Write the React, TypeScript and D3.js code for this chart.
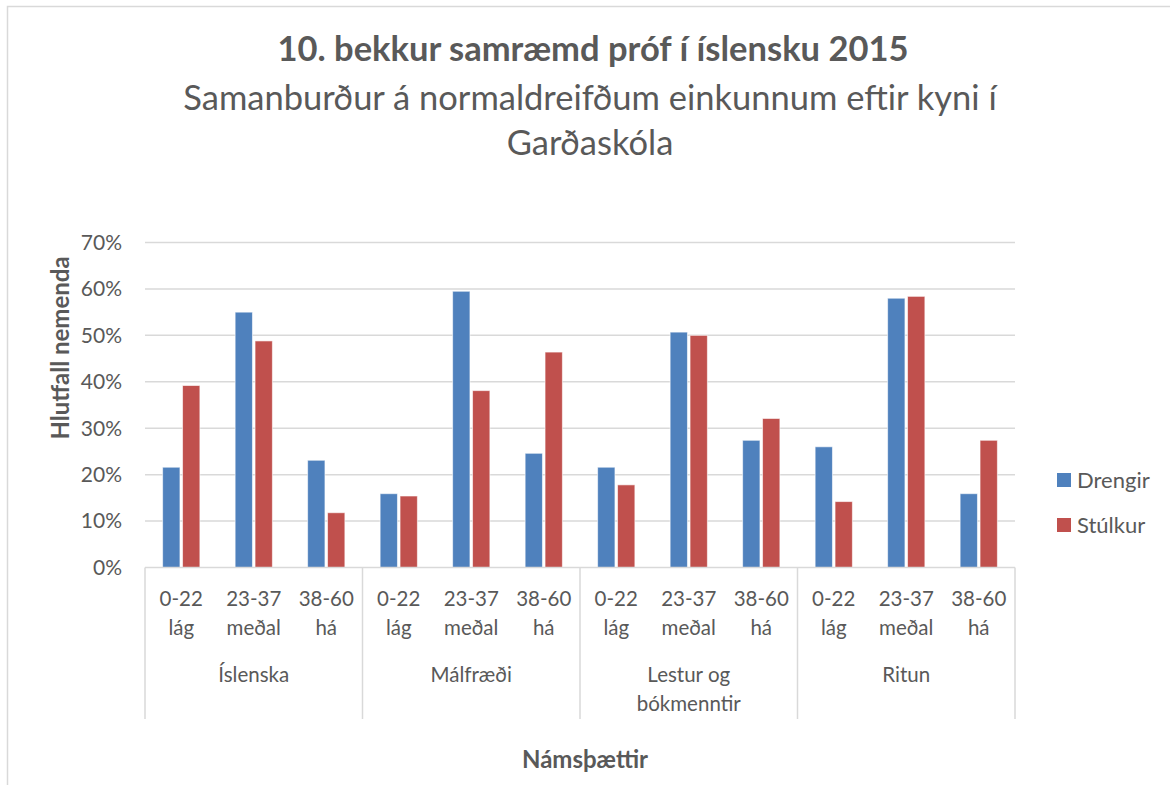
import { useEffect, useRef } from "react";
import * as d3 from "d3";

const groups = ["Íslenska", "Málfræði", "Lestur og bókmenntir", "Ritun"];
const groupLines = [["Íslenska"], ["Málfræði"], ["Lestur og", "bókmenntir"], ["Ritun"]];
const levels = [
  ["0-22", "lág"],
  ["23-37", "meðal"],
  ["38-60", "há"],
];
const seriesNames = ["Drengir", "Stúlkur"];
const seriesColors = ["#4F81BD", "#C0504D"];
const drengir = [0.216, 0.55, 0.231, 0.159, 0.595, 0.246, 0.216, 0.507, 0.274, 0.26, 0.58, 0.159];
const stulkur = [0.392, 0.488, 0.118, 0.154, 0.381, 0.464, 0.178, 0.5, 0.321, 0.142, 0.584, 0.274];
const yTicks = [0, 0.1, 0.2, 0.3, 0.4, 0.5, 0.6, 0.7];

const FONT = "Lato, 'Open Sans', sans-serif";
const TEXT = "#595959";

const App = () => {
  const svgRef = useRef<SVGSVGElement>(null);

  useEffect(() => {
    if (!svgRef.current) return;
    const width = 1170;
    const height = 785;
    const svg = d3.select(svgRef.current);
    svg.selectAll("*").remove();

    const left = 145;
    const right = 1015;
    const top = 242.5;
    const bottom = 567.5;

    // chart frame
    svg
      .append("rect")
      .attr("x", 7.5)
      .attr("y", 6.5)
      .attr("width", width + 20)
      .attr("height", height + 20)
      .attr("fill", "#fff")
      .attr("stroke", "#d9d9d9")
      .attr("stroke-width", 1.5);

    const cats = d3.range(12).map(String);
    const x = d3.scaleBand<string>().domain(cats).range([left, right]).padding(0);
    const y = d3.scaleLinear().domain([0, 0.7]).range([bottom, top]);
    const bw = x.bandwidth();
    const x1 = d3
      .scaleBand<string>()
      .domain(seriesNames)
      .range([bw * 0.243, bw * 0.757])
      .paddingInner(0.13);

    // gridlines
    svg
      .append("g")
      .selectAll("line")
      .data(yTicks.slice(1))
      .join("line")
      .attr("x1", left)
      .attr("x2", right)
      .attr("y1", (d) => y(d))
      .attr("y2", (d) => y(d))
      .attr("stroke", "#d9d9d9")
      .attr("stroke-width", 1.5);

    // y tick labels
    svg
      .append("g")
      .selectAll("text")
      .data(yTicks)
      .join("text")
      .attr("x", 122)
      .attr("y", (d) => y(d))
      .attr("dy", "0.35em")
      .attr("text-anchor", "end")
      .attr("font-family", FONT)
      .attr("font-size", 21)
      .attr("fill", TEXT)
      .text((d) => d3.format(".0%")(d));

    // bars
    const series = [drengir, stulkur];
    series.forEach((vals, si) => {
      svg
        .append("g")
        .selectAll("rect")
        .data(vals)
        .join("rect")
        .attr("x", (_, i) => (x(String(i)) || 0) + (x1(seriesNames[si]) || 0))
        .attr("y", (d) => y(d))
        .attr("width", x1.bandwidth())
        .attr("height", (d) => bottom - y(d))
        .attr("fill", seriesColors[si])
        .attr("stroke", "#fff")
        .attr("stroke-opacity", 0.6)
        .attr("stroke-width", 1);
    });

    // category axis
    const axisG = svg.append("g");
    axisG
      .append("line")
      .attr("x1", left)
      .attr("x2", right)
      .attr("y1", bottom)
      .attr("y2", bottom)
      .attr("stroke", "#d9d9d9")
      .attr("stroke-width", 1.5);

    const groupEdges = d3.range(5).map((g) => (g < 4 ? x(String(g * 3)) || 0 : right));
    axisG
      .selectAll("line.sep")
      .data(groupEdges)
      .join("line")
      .attr("class", "sep")
      .attr("x1", (d) => d)
      .attr("x2", (d) => d)
      .attr("y1", bottom)
      .attr("y2", 719)
      .attr("stroke", "#d9d9d9")
      .attr("stroke-width", 1.5);

    cats.forEach((c, i) => {
      const cx = (x(c) || 0) + bw / 2;
      const t = axisG
        .append("text")
        .attr("text-anchor", "middle")
        .attr("font-family", FONT)
        .attr("font-size", 20.5)
        .attr("fill", TEXT);
      levels[i % 3].forEach((line, li) => {
        t.append("tspan").attr("x", cx).attr("y", 606 + li * 29).text(line);
      });
    });

    groups.forEach((g, gi) => {
      const cx = (groupEdges[gi] + groupEdges[gi + 1]) / 2;
      const t = axisG
        .append("text")
        .attr("text-anchor", "middle")
        .attr("font-family", FONT)
        .attr("font-size", 20.5)
        .attr("fill", TEXT);
      groupLines[gi].forEach((line, li) => {
        t.append("tspan").attr("x", cx).attr("y", 682 + li * 29).text(line);
      });
    });

    // axis titles
    svg
      .append("text")
      .attr("x", 585)
      .attr("y", 768)
      .attr("text-anchor", "middle")
      .attr("font-family", FONT)
      .attr("font-size", 24)
      .attr("font-weight", "bold")
      .attr("fill", TEXT)
      .text("Námsþættir");

    svg
      .append("text")
      .attr("transform", "translate(69,348) rotate(-90)")
      .attr("text-anchor", "middle")
      .attr("font-family", FONT)
      .attr("font-size", 24)
      .attr("font-weight", "bold")
      .attr("fill", TEXT)
      .text("Hlutfall nemenda");

    // title
    svg
      .append("text")
      .attr("x", 593)
      .attr("y", 61)
      .attr("text-anchor", "middle")
      .attr("font-family", FONT)
      .attr("font-size", 34.5)
      .attr("font-weight", "bold")
      .attr("fill", TEXT)
      .text("10. bekkur samræmd próf í íslensku 2015");

    const sub = svg
      .append("text")
      .attr("text-anchor", "middle")
      .attr("font-family", FONT)
      .attr("font-size", 34.5)
      .attr("fill", TEXT);
    ["Samanburður á normaldreifðum einkunnum eftir kyni í", "Garðaskóla"].forEach((line, li) => {
      sub.append("tspan").attr("x", 590).attr("y", 110 + li * 45).text(line);
    });

    // legend
    const leg = svg
      .append("g")
      .selectAll("g")
      .data(seriesNames)
      .join("g")
      .attr("transform", (_, i) => `translate(1057,${473 + i * 45})`);
    leg
      .append("rect")
      .attr("width", 14)
      .attr("height", 14)
      .attr("fill", (_, i) => seriesColors[i]);
    leg
      .append("text")
      .attr("x", 20)
      .attr("y", 7)
      .attr("dy", "0.35em")
      .attr("font-family", FONT)
      .attr("font-size", 22)
      .attr("fill", TEXT)
      .text((d) => d);
  }, []);

  return (
    <svg
      ref={svgRef}
      width={1170}
      height={785}
      style={{ position: "absolute", left: 0, top: 0, display: "block" }}
    />
  );
};

export default App;
